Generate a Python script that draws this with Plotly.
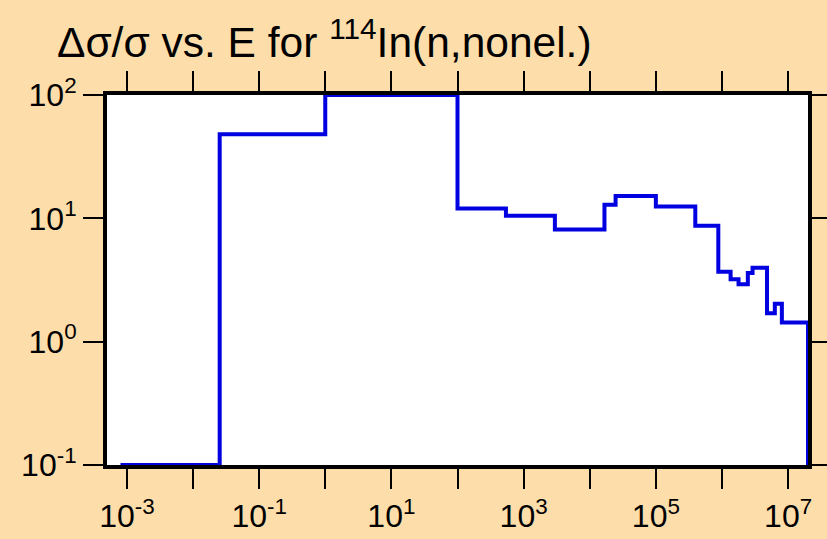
import plotly.graph_objects as go
import numpy as np

# Group boundaries (eV) and relative uncertainty (%) per group
energy = [8e-4, 0.0253, 1.0, 100.0, 540.0, 2970.0, 1.67e4, 2.46e4, 1.0e5, 3.95e5,
          8.8e5, 1.35e6, 1.78e6, 2.46e6, 2.9e6, 4.8e6, 6.3e6, 8.05e6, 2.0e7, 2.0e7]
rel_unc = [0.1, 48.0, 100.0, 12.0, 10.5, 8.1, 12.9, 15.2, 12.5, 8.7,
           3.69, 3.2, 2.92, 3.6, 3.97, 1.70, 2.03, 1.43, 1.43, 0.1]

x_tickvals = [1e-3, 1e-1, 1e1, 1e3, 1e5, 1e7]
x_ticktext = ["10<sup>-3</sup>", "10<sup>-1</sup>", "10<sup>1</sup>",
              "10<sup>3</sup>", "10<sup>5</sup>", "10<sup>7</sup>"]
x_minorvals = [1e-2, 1e0, 1e2, 1e4, 1e6]
y_tickvals = [0.1, 1, 10, 100]
y_ticktext = ["10<sup>-1</sup>", "10<sup>0</sup>", "10<sup>1</sup>", "10<sup>2</sup>"]

title_text = "Δσ/σ vs. E for <sup>114</sup>In(n,nonel.)"

FONT = "Liberation Sans Narrow, Arial Narrow, Liberation Sans, Arial, sans-serif"
BG = "#FDDEAB"

fig = go.Figure()
fig.add_trace(go.Scatter(
    x=energy, y=rel_unc, mode="lines", line_shape="hv",
    line=dict(color="#0000E0", width=4), showlegend=False,
))

axis_common = dict(
    type="log", showgrid=False, zeroline=False, automargin=False,
    showline=True, linecolor="black", linewidth=4,
    ticks="outside", ticklen=20, tickwidth=2, tickcolor="black",
    mirror="allticks",
    tickfont=dict(family=FONT, size=32, color="black"),
)

fig.update_layout(
    width=827, height=539,
    paper_bgcolor=BG, plot_bgcolor="white",
    margin=dict(l=107, r=19, t=95, b=74),
    title=dict(text=title_text, x=57/827, xanchor="left", y=1 - 42/539, yanchor="middle",
               font=dict(family=FONT, size=42.5, color="black")),
    xaxis=dict(axis_common, range=[np.log10(5e-4), np.log10(2e7)],
               tickmode="array", tickvals=x_tickvals, ticktext=x_ticktext,
               minor=dict(tickmode="array", tickvals=x_minorvals, ticks="outside",
                          ticklen=20, tickwidth=2, tickcolor="black", showgrid=False)),
    yaxis=dict(axis_common, range=[-1, 2],
               tickmode="array", tickvals=y_tickvals, ticktext=y_ticktext),
)

fig.write_html("out.html", config={"displayModeBar": False},
               post_script="document.body.style.margin='0';")
